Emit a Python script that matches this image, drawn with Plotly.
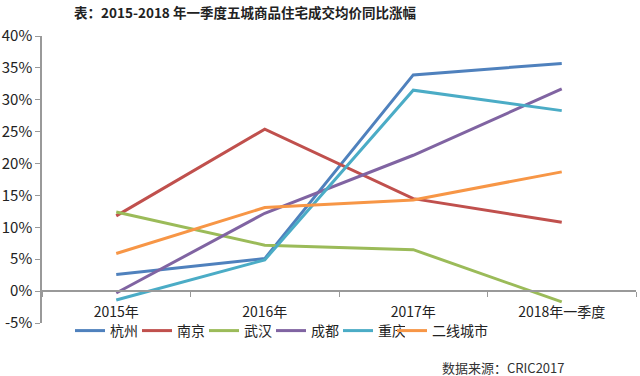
import plotly.graph_objects as go

categories = ["2015年", "2016年", "2017年", "2018年一季度"]
series_names = ["杭州", "南京", "武汉", "成都", "重庆", "二线城市"]
hangzhou = [2.6, 5.1, 33.9, 35.7]
nanjing = [11.8, 25.4, 14.5, 10.8]
wuhan = [12.4, 7.2, 6.5, -1.7]
chengdu = [-0.3, 12.2, 21.3, 31.7]
chongqing = [-1.4, 4.9, 31.5, 28.3]
erxian = [5.9, 13.1, 14.3, 18.7]
colors = ["#4F81BD", "#C0504D", "#9BBB59", "#8064A2", "#4BACC6", "#F79646"]
y_ticks = [-5, 0, 5, 10, 15, 20, 25, 30, 35, 40]
y_tick_text = [f"{v}%" for v in y_ticks]

font_family = "Noto Sans CJK SC, Noto Sans, sans-serif"
fig = go.Figure()
all_vals = [hangzhou, nanjing, wuhan, chengdu, chongqing, erxian]
for i, (name, vals, c) in enumerate(zip(series_names, all_vals, colors)):
    fig.add_trace(go.Scatter(x=categories, y=vals, name=name, mode="lines",
                             line=dict(color=c, width=3),
                             legend="legend" if i < 5 else "legend2"))

legend_common = dict(orientation="h", xref="container", yref="container",
                     yanchor="middle", y=1-331/376, font=dict(size=14),
                     itemwidth=30, bgcolor="rgba(0,0,0,0)", tracegroupgap=0)

fig.update_layout(
    width=640, height=376,
    margin=dict(l=42, r=4, t=36, b=53, autoexpand=False),
    paper_bgcolor="white", plot_bgcolor="white",
    font=dict(family=font_family, size=14, color="#222"),
    title=dict(text="<b>表：2015-2018 年一季度五城商品住宅成交均价同比涨幅</b>",
               x=245/640, xanchor="center", xref="container",
               y=1-13/376, yanchor="middle", yref="container",
               font=dict(size=13.5, color="#222")),
    showlegend=True,
    legend=dict(x=70/640, xanchor="left", entrywidth=22, entrywidthmode="pixels",
                **legend_common),
    legend2=dict(x=392/640, xanchor="left", **legend_common),
    xaxis=dict(type="category", range=[-0.5, 3.5], anchor="free", position=5/45,
               showline=True, linecolor="#999", linewidth=1.5,
               ticks="outside", tickson="boundaries", ticklen=5, tickcolor="#999",
               showgrid=False, zeroline=False, tickfont=dict(size=14),
               ticklabelstandoff=8, fixedrange=True),
    yaxis=dict(range=[-5, 40], tickvals=y_ticks, ticktext=y_tick_text,
               showline=True, linecolor="#999", linewidth=1.5,
               ticks="outside", ticklen=5, tickcolor="#999",
               showgrid=False, zeroline=False, tickfont=dict(size=15)),
    annotations=[dict(text="数据来源：CRIC2017", xref="paper", yref="paper",
                      x=1-(636-567)/594, xanchor="right", y=(323-367)/287, yanchor="middle",
                      showarrow=False, font=dict(size=13, color="#333"))],
)

fig.write_html("out.html", config={"displayModeBar": False},
               post_script="document.body.style.margin='0px';")
